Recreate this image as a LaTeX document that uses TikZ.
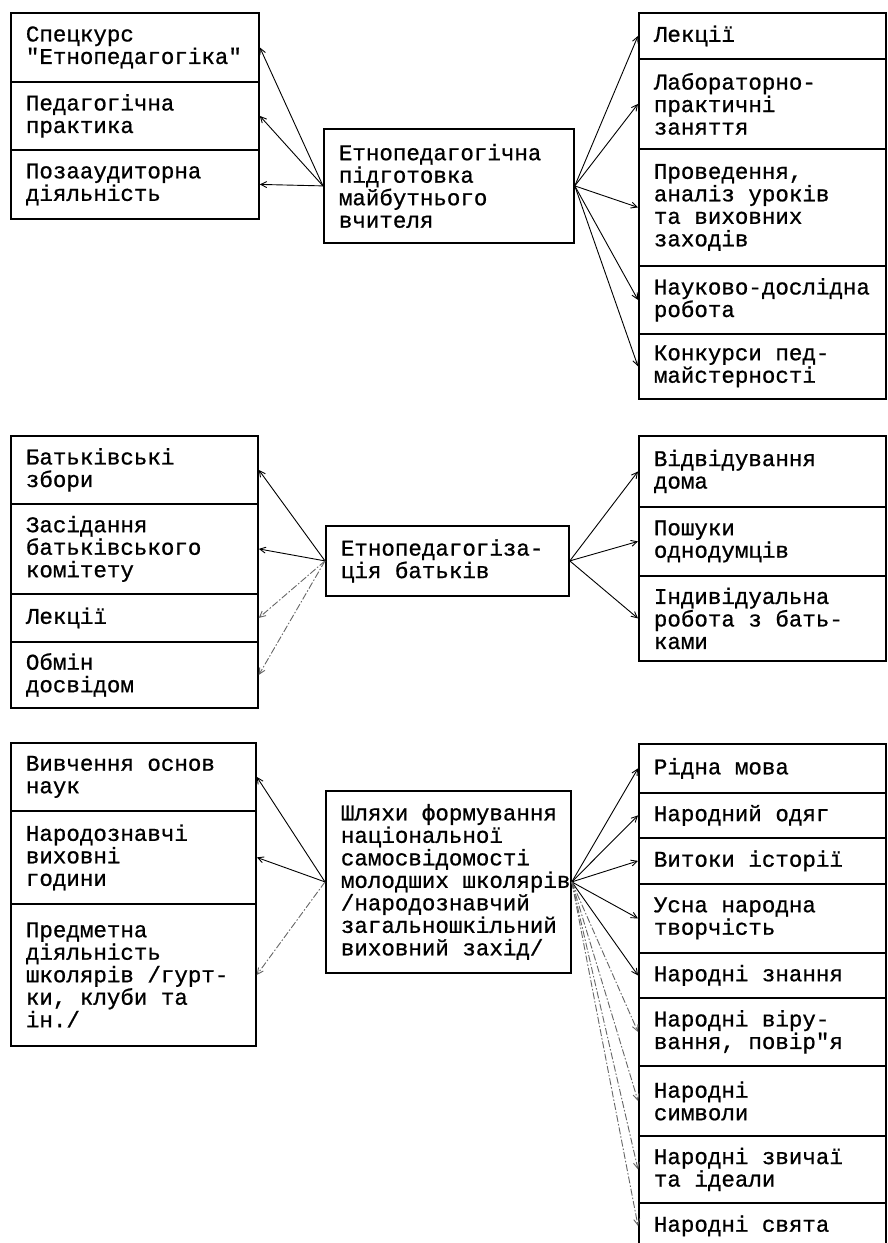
\documentclass[tikz,border=0pt]{standalone}
\usepackage{fontspec}
\setmonofont{Liberation Mono}[FakeBold=0.8]
\usetikzlibrary{arrows.meta}
\tikzset{
  cell/.style={draw, line width=1.8pt, anchor=north west, inner xsep=15pt, inner ysep=1pt,
    align=flush left, font=\ttfamily\fontsize{22.5}{22.5}\selectfont},
  wl/.style={cell, text width=218pt},
  wr/.style={cell, text width=217pt},
  conn/.style={line width=0.9pt, -{Straight Barb[length=6pt,width=6pt]}},
  faint/.style={conn, draw=black!60, dash pattern=on 7pt off 2pt on 1.5pt off 2pt}
}
\begin{document}
\begin{tikzpicture}[x=1pt,y=-1pt]
\useasboundingbox[fill=white] (0,0) rectangle (887,1243);
% ---------- group 1 ----------
\node[wl, minimum height=69] (a1) at (10,12) {Спецкурс\\"Етнопедагогіка"};
\node[wl, minimum height=68] (a2) at (10,81) {Педагогічна\\практика};
\node[wl, minimum height=69] (a3) at (10,149) {Позааудиторна\\діяльність};
\node[cell, text width=220pt, minimum height=114] (A) at (323,128) {Етнопедагогічна\\підготовка\\майбутнього\\вчителя};
\node[wr, minimum height=46] (b1) at (638,12) {Лекції};
\node[wr, minimum height=90] (b2) at (638,58) {Лабораторно-\\практичні\\заняття};
\node[wr, minimum height=117] (b3) at (638,148) {Проведення,\\аналіз уроків\\та виховних\\заходів};
\node[wr, minimum height=68] (b4) at (638,265) {Науково-дослідна\\робота};
\node[wr, minimum height=65] (b5) at (638,333) {Конкурси пед-\\майстерності};
\foreach \n in {a1,a2,a3} \draw[conn] (A.west) -- (\n.east);
\foreach \n in {b1,b2,b3,b4,b5} \draw[conn] (A.east) -- (\n.west);
% ---------- group 2 ----------
\node[cell, text width=217pt, minimum height=68] (c1) at (10,435) {Батьківські\\збори};
\node[cell, text width=217pt, minimum height=90] (c2) at (10,503) {Засідання\\батьківського\\комітету};
\node[cell, text width=217pt, minimum height=48] (c3) at (10,593) {Лекції};
\node[cell, text width=217pt, minimum height=66] (c4) at (10,641) {Обмін\\досвідом};
\node[cell, text width=213pt, minimum height=70] (C) at (325,525) {Етнопедагогіза-\\ція батьків};
\node[wr, minimum height=71] (d1) at (638,435) {Відвідування\\дома};
\node[wr, minimum height=69] (d2) at (638,506) {Пошуки\\однодумців};
\node[wr, minimum height=85] (d3) at (638,575) {Індивідуальна\\робота з бать-\\ками};
\draw[conn] (C.west) -- (c1.east);
\draw[conn] (C.west) -- (c2.east);
\draw[faint] (C.west) -- (c3.east);
\draw[faint] (C.west) -- (c4.east);
\foreach \n in {d1,d2,d3} \draw[conn] (C.east) -- (\n.west);
% ---------- group 3 ----------
\node[cell, text width=215pt, minimum height=68] (e1) at (10,742) {Вивчення основ\\наук};
\node[cell, text width=215pt, minimum height=93] (e2) at (10,810) {Народознавчі\\виховні\\години};
\node[cell, text width=215pt, minimum height=142] (e3) at (10,903) {Предметна\\діяльність\\школярів /гурт-\\ки, клуби та\\ін./};
\node[cell, text width=215pt, minimum height=182] (E) at (325,790) {\mbox{Шляхи формування}\\національної\\самосвідомості\\\mbox{молодших школярів}\\/народознавчий\\загальношкільний\\\mbox{виховний захід/}};
\node[wr, minimum height=49] (f1) at (638,743) {Рідна мова};
\node[wr, minimum height=45] (f2) at (638,792) {Народний одяг};
\node[wr, minimum height=46] (f3) at (638,837) {Витоки історії};
\node[wr, minimum height=69] (f4) at (638,883) {Усна народна\\творчість};
\node[wr, minimum height=45] (f5) at (638,952) {Народні знання};
\node[wr, minimum height=68] (f6) at (638,997) {Народні віру-\\вання, повір"я};
\node[wr, minimum height=70] (f7) at (638,1065) {Народні\\символи};
\node[wr, minimum height=67] (f8) at (638,1135) {Народні звичаї\\та ідеали};
\node[wr, minimum height=46] (f9) at (638,1202) {Народні свята};
\draw[conn] (E.west) -- (e1.east);
\draw[conn] (E.west) -- (e2.east);
\draw[faint] (E.west) -- (e3.east);
\foreach \n in {f1,f2,f3,f4,f5} \draw[conn] (E.east) -- (\n.west);
\foreach \n in {f6,f7,f8,f9} \draw[faint] (E.east) -- (\n.west);
\end{tikzpicture}
\end{document}
